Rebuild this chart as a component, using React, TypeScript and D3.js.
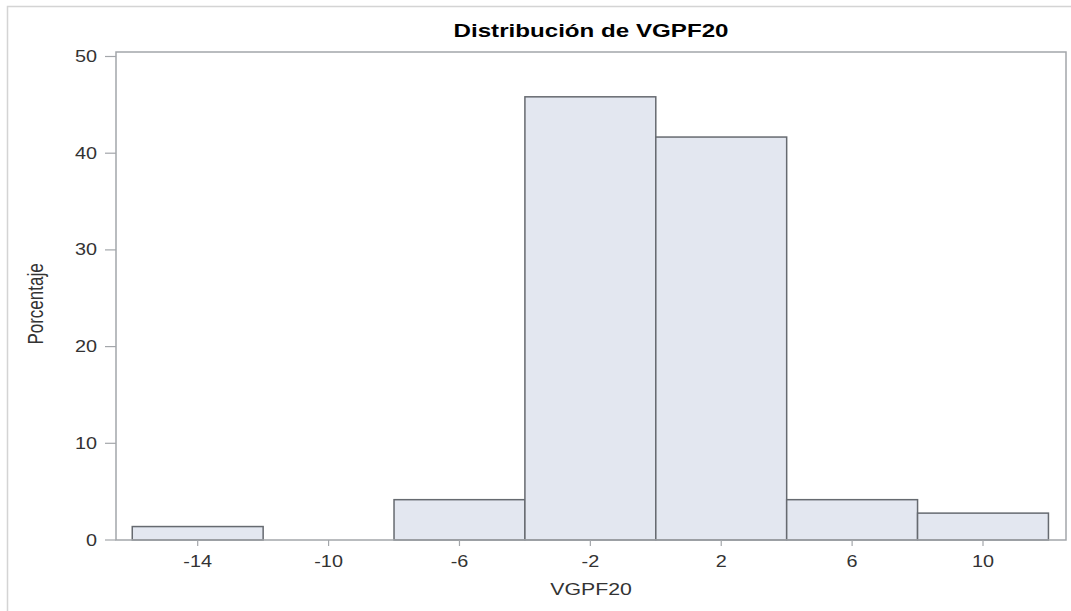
import React from "react";
import * as d3 from "d3";

const binStarts = [-16, -12, -8, -4, 0, 4, 8];
const binWidth = 4;
const percents = [1.39, 0, 4.17, 45.83, 41.67, 4.17, 2.78];
const xTicks = [-14, -10, -6, -2, 2, 6, 10];
const yTicks = [0, 10, 20, 30, 40, 50];
const title = "Distribución de VGPF20";
const xLabel = "VGPF20";
const yLabel = "Porcentaje";

const W = 1071, H = 611;
const frame = { left: 116, right: 1066, top: 52, bottom: 540 };

export default function App() {
  const x = d3.scaleLinear().domain([-14, 10]).range([197.7, 983]);
  const y = d3.scaleLinear().domain([0, 50]).range([540, 56.5]);
  const font = "'Liberation Sans', Arial, Helvetica, sans-serif";
  const sx = 1.24;
  return (
    <svg width={W} height={H} style={{ position: "absolute", left: 0, top: 0, background: "#fff" }} fontFamily={font}>
      <rect x={7.5} y={6.5} width={W + 10} height={H + 10} fill="none" stroke="#d4d4d4" strokeWidth={1.5} />
      <text transform={`translate(${(frame.left + frame.right) / 2},37) scale(1.38,1)`} textAnchor="middle" fontWeight="bold" fontSize={17.5} fill="#000">{title}</text>
      {binStarts.map((s, i) => percents[i] > 0 ? (
        <rect key={i} x={x(s)} y={y(percents[i])} width={x(s + binWidth) - x(s)} height={y(0) - y(percents[i])}
          fill="#e3e7f0" stroke="#666a70" strokeWidth={1.5} />
      ) : null)}
      <rect x={frame.left} y={frame.top} width={frame.right - frame.left} height={frame.bottom - frame.top}
        fill="none" stroke="#a3a6aa" strokeWidth={1.5} />
      {yTicks.map(t => (
        <g key={t}>
          <line x1={105} x2={frame.left} y1={y(t)} y2={y(t)} stroke="#a3a6aa" strokeWidth={1.2} />
          <text transform={`translate(97,${y(t) + 5.5}) scale(${sx},1)`} textAnchor="end" fontSize={16} fill="#333">{t}</text>
        </g>
      ))}
      {xTicks.map(t => (
        <g key={t}>
          <line x1={x(t)} x2={x(t)} y1={frame.bottom} y2={frame.bottom + 6} stroke="#a3a6aa" strokeWidth={1.2} />
          <text transform={`translate(${x(t)},567) scale(${sx},1)`} textAnchor="middle" fontSize={16} fill="#333">{t}</text>
        </g>
      ))}
      <text transform={`translate(${(frame.left + frame.right) / 2},595) scale(1.29,1)`} textAnchor="middle" fontSize={16.5} fill="#333">{xLabel}</text>
      <text transform={`translate(43,304) scale(1.3,1) rotate(-90)`} textAnchor="middle" fontSize={17} fill="#333">{yLabel}</text>
    </svg>
  );
}
